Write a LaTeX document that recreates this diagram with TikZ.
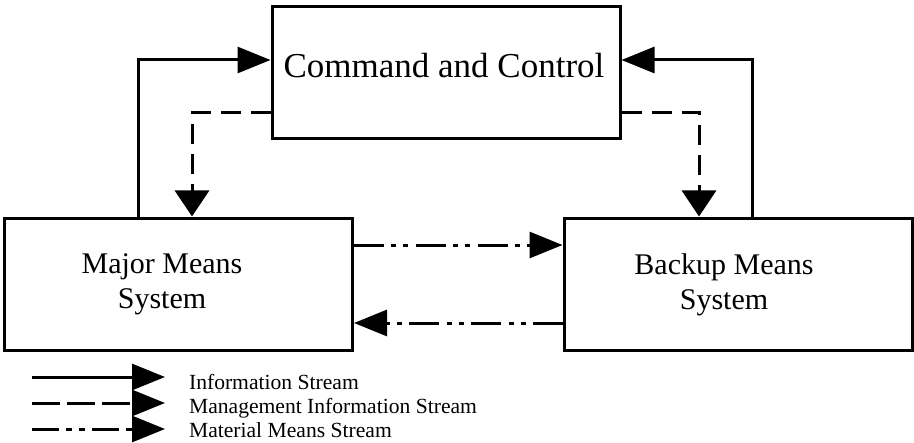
\documentclass[tikz,border=0pt]{standalone}
\usepackage{fontspec}
\setmainfont{Liberation Serif}
\usetikzlibrary{arrows.meta}
\begin{document}
\begin{tikzpicture}[x=0.5pt,y=-0.5pt,
  box/.style={draw,line width=1.5pt,minimum width=174pt,minimum height=66pt,inner sep=0pt},
  flow/.style={line width=1.5pt},
  hhead/.style={-{Triangle[length=16.5pt,width=13pt]}},
  vhead/.style={-{Triangle[length=13pt,width=17pt]}},
  infoline/.style={flow},
  mgmtline/.style={flow,dash pattern=on 10pt off 5pt},
  matline/.style={flow,dash pattern=on 15pt off 3.5pt on 2.5pt off 3.5pt on 2.5pt off 4pt},
  keymgmt/.style={flow,dash pattern=on 14pt off 3.5pt},
  keymat/.style={flow,dash pattern=on 13.5pt off 3.5pt on 3pt off 3.5pt on 3pt off 3.5pt},
  bigtext/.style={anchor=base,font=\fontsize{17.5pt}{21pt}\selectfont},
  midtext/.style={anchor=base,align=center,font=\fontsize{15pt}{17.5pt}\selectfont},
  keytext/.style={anchor=base west,font=\fontsize{10.8pt}{12pt}\selectfont},
]
\useasboundingbox (0,0) rectangle (914,443);

% the three subsystems
\node[box] (cc) at (446,73) {};
\node[box] (major) at (178.5,284) {};
\node[box] (backup) at (738,284) {};

% captions (base anchor sits on the last line of a two-line caption)
\node[bigtext] (cctext) at (444,78) {Command and Control};
\node[midtext] (majortext) at (162,308) {Major Means\\System};
\node[midtext] (backuptext) at (724,309) {Backup Means\\System};

% information streams up to command and control
\draw[infoline,hhead] ([xshift=-20.25pt]major.north) |- ([yshift=6.5pt]cc.west);
\draw[infoline,hhead] ([xshift=7pt]backup.north) |- ([yshift=6.5pt]cc.east);

% management information down to the means systems
\draw[mgmtline,vhead] ([yshift=-20pt]cc.west) -| ([xshift=6.75pt]major.north);
\draw[mgmtline,vhead] ([yshift=-20pt]cc.east) -| ([xshift=-19.5pt]backup.north);

% material means between the two systems
\draw[matline,hhead] ([yshift=19.5pt]major.east) -- ([yshift=19.5pt]backup.west);
\draw[matline,hhead] ([yshift=-19.5pt]backup.west) -- ([yshift=-19.5pt]major.east);

% legend
\coordinate (k1a) at (32,377); \coordinate (k1b) at (165,377);
\coordinate (k2a) at (32,403); \coordinate (k2b) at (165,403);
\coordinate (k3a) at (32,429); \coordinate (k3b) at (165,429);
\draw[infoline,hhead] (k1a) -- (k1b);
\draw[keymgmt,hhead] (k2a) -- (k2b);
\draw[keymat,hhead] (k3a) -- (k3b);
\node[keytext] (k1t) at (182,389) {Information Stream};
\node[keytext] (k2t) at (182,413) {Management Information Stream};
\node[keytext] (k3t) at (182,437) {Material Means Stream};
\end{tikzpicture}
\end{document}
